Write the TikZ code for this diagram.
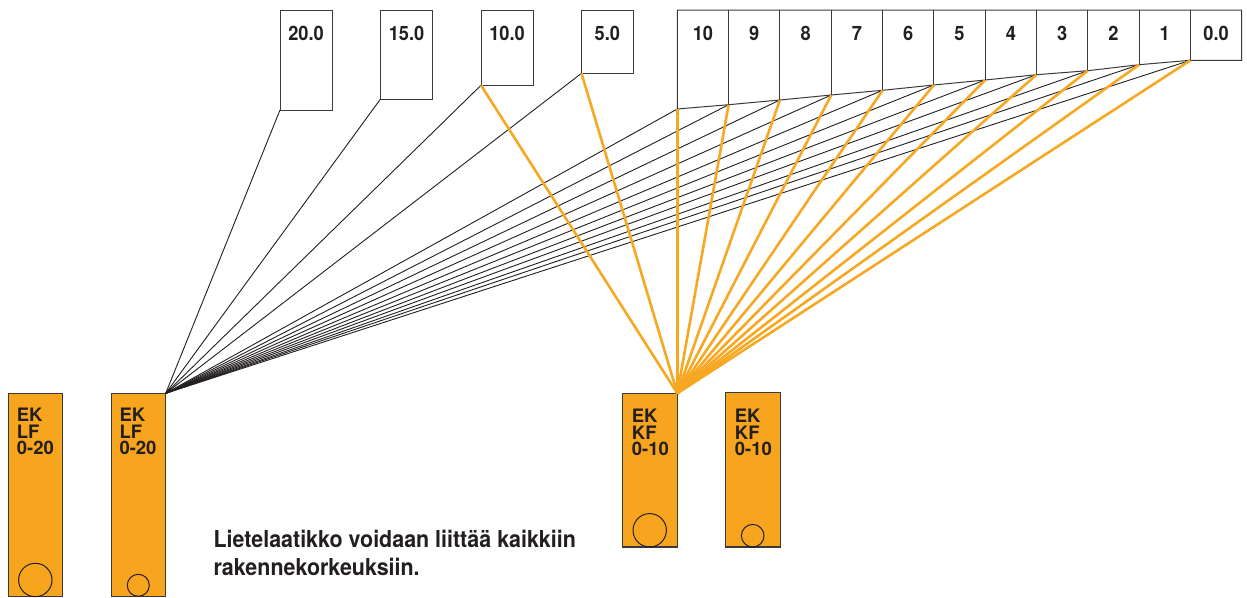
\documentclass[tikz,border=0pt]{standalone}
\usepackage{fontspec}
\setmainfont{TeX Gyre Heros}
\newfontfamily\ekfont[FakeStretch=0.92]{TeX Gyre Heros}
\definecolor{ekorange}{HTML}{F7A51F}
\definecolor{ekline}{HTML}{F7A823}
\definecolor{ektext}{HTML}{231F20}
\definecolor{ekborder}{HTML}{3A3A3A}
\begin{document}
\begin{tikzpicture}[x=1pt,y=-1pt,
  valbox/.style={draw=ekborder, line width=1pt, inner sep=0pt, outer sep=0pt, anchor=north west, minimum width=52pt},
  boxline/.style={draw=ekborder, line width=1pt, line join=miter},
  lbl/.style={font=\ekfont\fontsize{19.8}{20}\selectfont\bfseries, text=ektext, inner sep=0pt, anchor=base},
  ekbox/.style={draw=ekborder, fill=ekorange, line width=1.1pt, inner sep=0pt, outer sep=0pt, anchor=north west},
  hole/.style={circle, draw=ektext, line width=1pt, inner sep=0pt},
  eklbl/.style={anchor=north west, align=left, inner sep=0pt, text=ektext, font=\fontsize{18.5}{16.5}\selectfont\bfseries},
  blk/.style={draw=ektext, line width=0.9pt},
  org/.style={draw=ekline, line width=2.6pt},
]
\useasboundingbox (0,0) rectangle (1247,597);

% value boxes
\node[valbox, minimum height=100pt] (v20) at (280,10) {};
\node[valbox, minimum height=89pt] (v15) at (380.5,10) {};
\node[valbox, minimum height=75.3pt] (v10) at (481,10) {};
\node[valbox, minimum height=63.3pt] (v5) at (581.5,10) {};
\node[lbl] (l20) at (306,40.7) {20.0};
\node[lbl] (l15) at (406.5,40.7) {15.0};
\node[lbl] (l10) at (507,40.7) {10.0};
\node[lbl] (l5) at (607.3,40.7) {5.0};

% scale boxes
\foreach \i/\b/\lab in {0/109/10, 1/104.7/9, 2/100/8, 3/95/7, 4/90.3/6, 5/85/5, 6/80/4, 7/74.7/3, 8/70.7/2, 9/64.7/1, 10/60.3/0.0} {
  \coordinate (t\i) at ({677.3+51.31*\i},10);
  \coordinate (p\i) at ({677.3+51.31*\i},\b);
  \node[lbl] (sl\i) at ({677.3+51.31*\i+25.65},40.7) {\lab};
}
\coordinate (t11) at (1241.7,10);
\coordinate (q) at (1241.7,60.3);
\draw[boxline] (t0) -- (t11) -- (q) -- (p10) -- (p9) -- (p8) -- (p7) -- (p6) -- (p5) -- (p4) -- (p3) -- (p2) -- (p1) -- (p0) -- cycle;
\foreach \i in {1,...,10} \draw[boxline] (t\i) -- (p\i);

% orange boxes
\node[ekbox, minimum width=54.4pt, minimum height=203.3pt] (lf1) at (8.3,393.3) {};
\node[ekbox, minimum width=54.4pt, minimum height=203.3pt] (lf2) at (111.3,393.3) {};
\node[ekbox, minimum width=55pt, minimum height=153.7pt] (kf1) at (622.3,393.3) {};
\node[ekbox, minimum width=55pt, minimum height=154.3pt] (kf2) at (725.3,392.7) {};
\node[hole, minimum size=33.4pt] (h1) at (35.3,580) {};
\node[hole, minimum size=22pt] (h2) at (138.3,585.3) {};
\node[hole, minimum size=33.4pt] (h3) at (649.7,530.3) {};
\node[hole, minimum size=22.6pt] (h4) at (752.7,535.7) {};
\node[eklbl] (x1) at (16.7,408.3) {EK\\LF\\0-20};
\node[eklbl] (x2) at (119.3,408.3) {EK\\LF\\0-20};
\node[eklbl] (x3) at (631.7,409.3) {EK\\KF\\0-10};
\node[eklbl] (x4) at (734.7,409.3) {EK\\KF\\0-10};

% connectors
\foreach \c in {v20.south west, v15.south west, v10.south west, v5.south west, p0, p1, p2, p3, p4, p5, p6, p7, p8, p9, p10}
  \draw[blk] (lf2.north east) -- (\c);
\foreach \c in {v10.south west, v5.south west, p0, p1, p2, p3, p4, p5, p6, p7, p8, p9, p10}
  \draw[org] (kf1.north east) -- (\c);

% note
\node[anchor=north west, align=left, inner sep=0pt, text=ektext, font=\ekfont\fontsize{23.3}{28.4}\selectfont\bfseries] (note) at (213.3,529.5) {Lietelaatikko voidaan liittää kaikkiin\\rakennekorkeuksiin.};
\end{tikzpicture}
\end{document}
